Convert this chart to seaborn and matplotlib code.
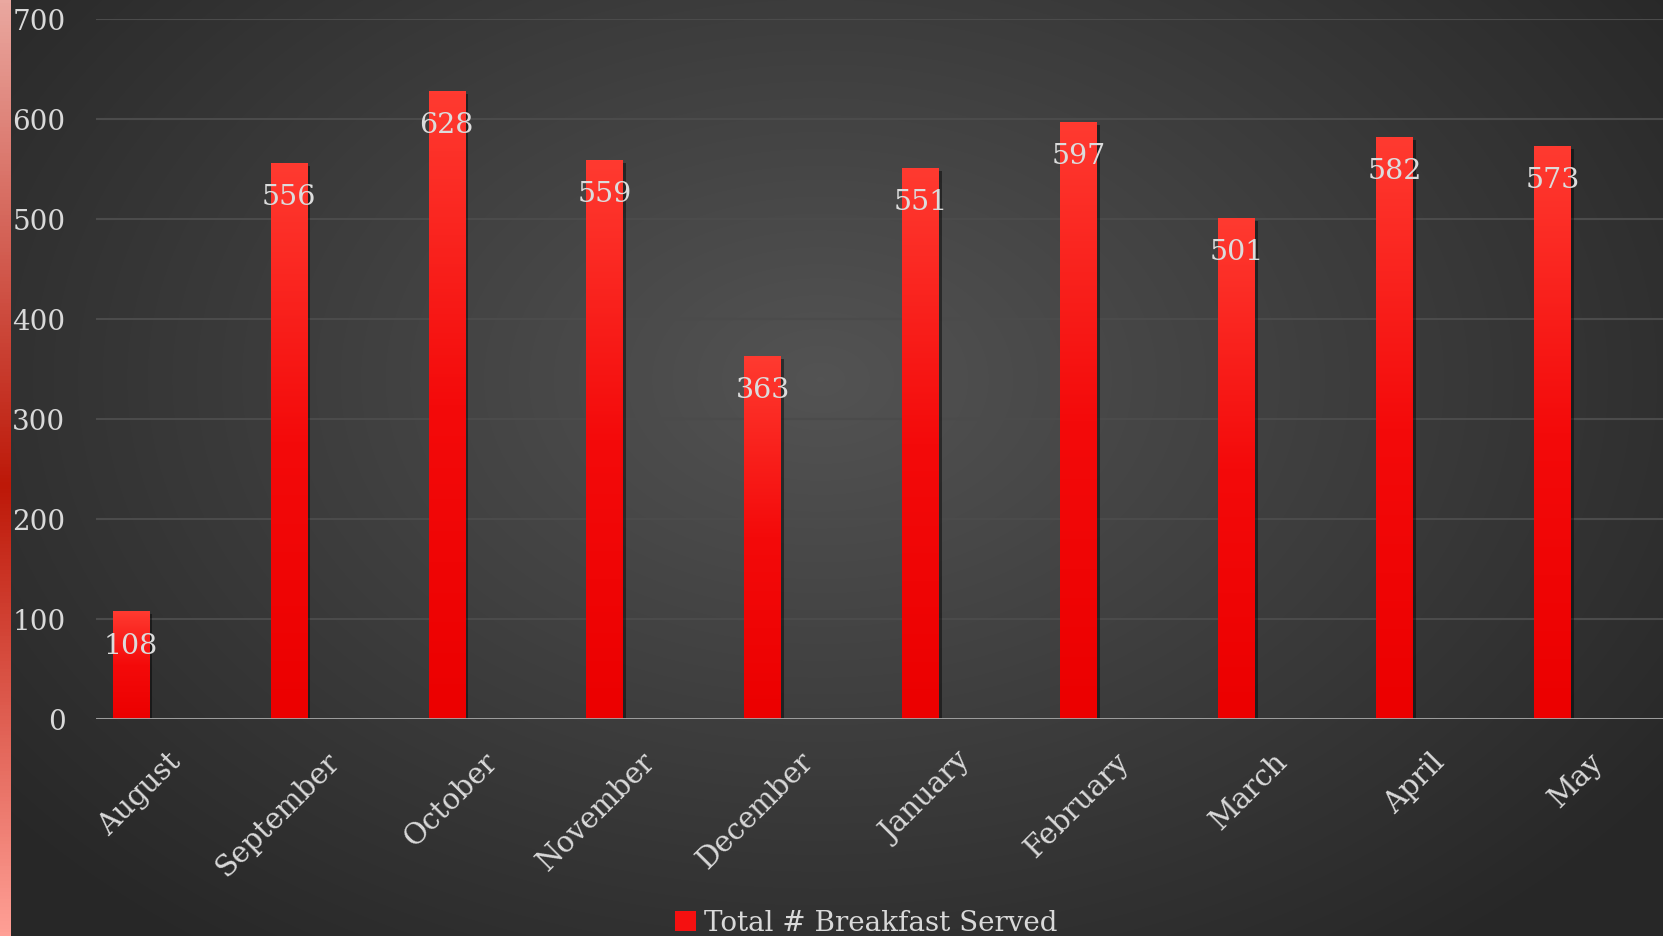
import numpy as np
import pandas as pd
import matplotlib
matplotlib.use("Agg")
import matplotlib.pyplot as plt
import seaborn as sns
from matplotlib.colors import LinearSegmentedColormap
from matplotlib.patches import Rectangle
import matplotlib.patheffects as pe

# ---- data ----
months = ["August", "September", "October", "November", "December",
          "January", "February", "March", "April", "May"]
served = [108, 556, 628, 559, 363, 551, 597, 501, 582, 573]
series_name = "Total # Breakfast Served"
y_ticks = [0, 100, 200, 300, 400, 500, 600, 700]

sns.set_theme(style="dark")
plt.rcParams['font.family'] = ['DejaVu Serif', 'DejaVu Sans']

W, H = 1663, 937
fig = plt.figure(figsize=(W / 100, H / 100), dpi=100)

# background radial gradient
bg = fig.add_axes([0, 0, 1, 1], zorder=-10)
yy, xx = np.mgrid[0:H, 0:W]
d = np.sqrt(((xx - 820) / 1050.0) ** 2 + ((yy - 380) / 720.0) ** 2)
d = np.clip(d, 0, 1)
bgcmap = LinearSegmentedColormap.from_list('bg', [(0, '#535353'), (0.55, '#3b3b3b'), (1, '#272727')])
bg.imshow(d, cmap=bgcmap, aspect='auto', extent=[0, 1, 0, 1], origin='upper', vmin=0, vmax=1)
bg.axis('off')

# left decorative strip
strip = fig.add_axes([0, 0, 11 / W, 1], zorder=-5)
stripcmap = LinearSegmentedColormap.from_list('strip', [(0, '#eaa8a0'), (0.52, '#bd1808'), (1, '#ffa096')])
strip.imshow(np.linspace(0, 1, 256).reshape(-1, 1), cmap=stripcmap, aspect='auto',
             extent=[0, 1, 0, 1], origin='upper')
strip.axis('off')

# main axes
ax = fig.add_axes([96 / W, 1 - 720 / H, 1 - 96 / W, 700 / H])
ax.patch.set_alpha(0)
df = pd.DataFrame({'month': months, 'served': served})
sns.barplot(data=df, x='month', y='served', color='#f51010', width=0.23, ax=ax,
            saturation=1, zorder=3, errorbar=None, linewidth=0, edgecolor='none')

barcmap = LinearSegmentedColormap.from_list('bar', [(0, '#ec0000'), (0.5, '#f40a0a'), (1, '#ff3a30')])
grad = np.linspace(0, 1, 200).reshape(-1, 1)
for p in list(ax.patches):
    x0, y0, w, h = p.get_x(), p.get_y(), p.get_width(), p.get_height()
    p.set_linewidth(0)
    p.set_edgecolor('none')
    p.set_path_effects([pe.SimplePatchShadow(offset=(2.5, -2), alpha=0.45, shadow_rgbFace='black'),
                        pe.Normal()])
    im = ax.imshow(grad, cmap=barcmap, extent=[x0, x0 + w, y0, y0 + h], aspect='auto',
                   origin='lower', zorder=4)
    im.set_clip_path(p)

for i, v in enumerate(served):
    ax.annotate(str(v), xy=(i, v), xytext=(0, -34 * 0.72), textcoords='offset points',
                ha='center', va='center', color='#dcdcdc', fontsize=20.5, zorder=6)

ax.set_ylim(0, 700)
ax.set_yticks(y_ticks)
ax.set_yticklabels([str(t) for t in y_ticks])
ax.set_xlim(-0.22, 9.70)
ax.set_xticks(np.arange(len(months)) + 0.23)
ax.set_xticklabels(months, rotation=45, ha='right', va='top', rotation_mode='anchor')
ax.tick_params(axis='y', length=0, pad=22, labelsize=20, labelcolor='#d9d9d9')
ax.tick_params(axis='x', length=0, pad=20, labelsize=21, labelcolor='#d9d9d9')
ax.set_xlabel('')
ax.set_ylabel('')
ax.yaxis.grid(True, color='#4b4b4b', lw=1.5, zorder=0)
ax.xaxis.grid(False)
for s in ax.spines.values():
    s.set_visible(False)
ax.axhline(0, color='#a6a6a6', lw=2, zorder=5)
ax.set_axisbelow(True)

handles = [Rectangle((0, 0), 1, 1, facecolor='#f51010', edgecolor='none')]
fig.legend(handles, [series_name], loc='center', bbox_to_anchor=(866 / W, 1 - 924 / H),
           frameon=False, fontsize=20, labelcolor='#d9d9d9', handlelength=0.75,
           handleheight=0.75, handletextpad=0.3, borderaxespad=0, borderpad=0)

fig.savefig('out.png', dpi=100)
